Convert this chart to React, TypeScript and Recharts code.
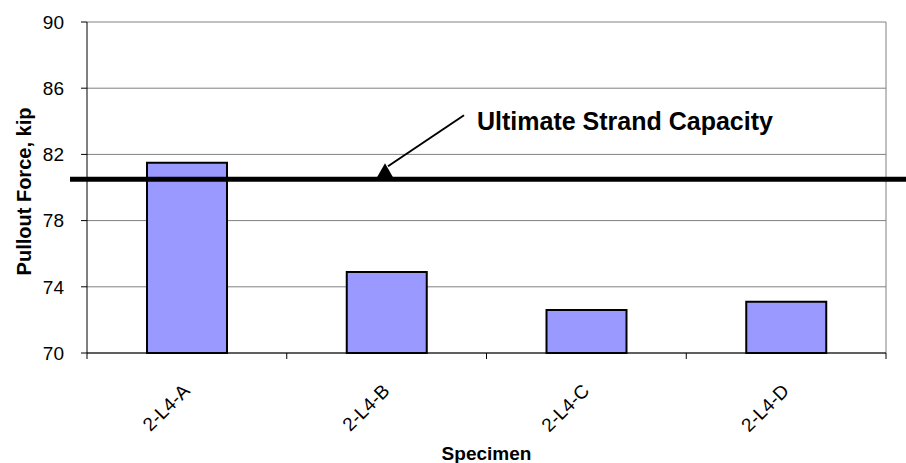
import React from 'react'
import { Bar, BarChart, CartesianGrid, Label, ReferenceLine, XAxis, YAxis } from 'recharts'

const specimens = ['2-L4-A', '2-L4-B', '2-L4-C', '2-L4-D']
const pulloutForce = [81.5, 74.9, 72.6, 73.1]
const yTicks = [70, 74, 78, 82, 86, 90]
const strandCapacity = 80.5
const capacityLabel = 'Ultimate Strand Capacity'

const data = specimens.map((name, i) => ({ name, force: pulloutForce[i] }))

const W = 906
const H = 463
const PLOT_LEFT = 87
const PLOT_RIGHT = 886
const PLOT_W = PLOT_RIGHT - PLOT_LEFT
const FONT = '"Liberation Sans", Arial, sans-serif'

function SpecimenTick(props: any) {
  const { x, y, payload, index } = props
  const half = PLOT_W / specimens.length / 2
  const tx = x + 4
  const ty = y + 39
  return (
    <g>
      <line x1={x - half} y1={y} x2={x - half} y2={y + 6} stroke="#000" />
      {index === specimens.length - 1 && (
        <line x1={x + half} y1={y} x2={x + half} y2={y + 6} stroke="#000" />
      )}
      <text x={tx} y={ty} textAnchor="end" fontSize={19} fill="#000" transform={`rotate(-45, ${tx}, ${ty})`}>
        {payload.value}
      </text>
    </g>
  )
}

// thick capacity line runs past the plot on both sides, plus the arrow + callout text
function CapacityLine(props: any) {
  const { x1, x2, y1 } = props
  const tipX = x1 + 298
  const tipY = y1 - 16
  return (
    <g>
      <line x1={x1 - 17} y1={y1} x2={x2 + 25} y2={y1} stroke="#000" strokeWidth={5} />
      <line x1={x1 + 377} y1={y1 - 64} x2={tipX + 3} y2={tipY + 3} stroke="#000" strokeWidth={2} />
      <polygon points={`${tipX},${tipY} ${tipX - 8},${y1 - 2} ${tipX + 8},${y1 - 2}`} fill="#000" />
      <text x={x1 + 390} y={y1 - 49} fontSize={25} fontWeight="bold" fill="#000">
        {capacityLabel}
      </text>
    </g>
  )
}

export default function App() {
  return (
    <div style={{ position: 'absolute', left: 0, top: 0, fontFamily: FONT, background: '#fff' }}>
      <BarChart width={W} height={H} data={data} margin={{ top: 22, right: W - PLOT_RIGHT, bottom: 0, left: 0 }}>
        <CartesianGrid
          stroke="#808080"
          verticalCoordinatesGenerator={({ offset }: any) => [offset.left + offset.width]}
        />
        <XAxis
          dataKey="name"
          height={110}
          tickSize={0}
          tickMargin={0}
          tickLine={false}
          axisLine={{ stroke: '#000' }}
          tick={<SpecimenTick />}
          interval={0}
        >
          <Label
            content={(p: any) => (
              <text
                x={p.viewBox.x + p.viewBox.width / 2}
                y={p.viewBox.y + 107}
                textAnchor="middle"
                fontSize={19}
                fontWeight="bold"
                fill="#000"
              >
                Specimen
              </text>
            )}
          />
        </XAxis>
        <YAxis
          type="number"
          domain={[70, 90]}
          ticks={yTicks}
          interval={0}
          width={PLOT_LEFT}
          tickSize={6}
          tickMargin={17}
          axisLine={{ stroke: '#000' }}
          tickLine={{ stroke: '#000' }}
          tick={{ fill: '#000', fontSize: 19 }}
        >
          <Label
            content={(p: any) => {
              const lx = p.viewBox.x + 31
              const ly = p.viewBox.y + p.viewBox.height / 2 + 4
              return (
                <text
                  x={lx}
                  y={ly}
                  textAnchor="middle"
                  fontSize={20}
                  fontWeight="bold"
                  fill="#000"
                  transform={`rotate(-90, ${lx}, ${ly})`}
                >
                  Pullout Force, kip
                </text>
              )
            }}
          />
        </YAxis>
        <Bar dataKey="force" fill="#9999FF" stroke="#000" strokeWidth={2} barSize={80} isAnimationActive={false} />
        <ReferenceLine y={strandCapacity} ifOverflow="visible" shape={<CapacityLine />} />
      </BarChart>
    </div>
  )
}
